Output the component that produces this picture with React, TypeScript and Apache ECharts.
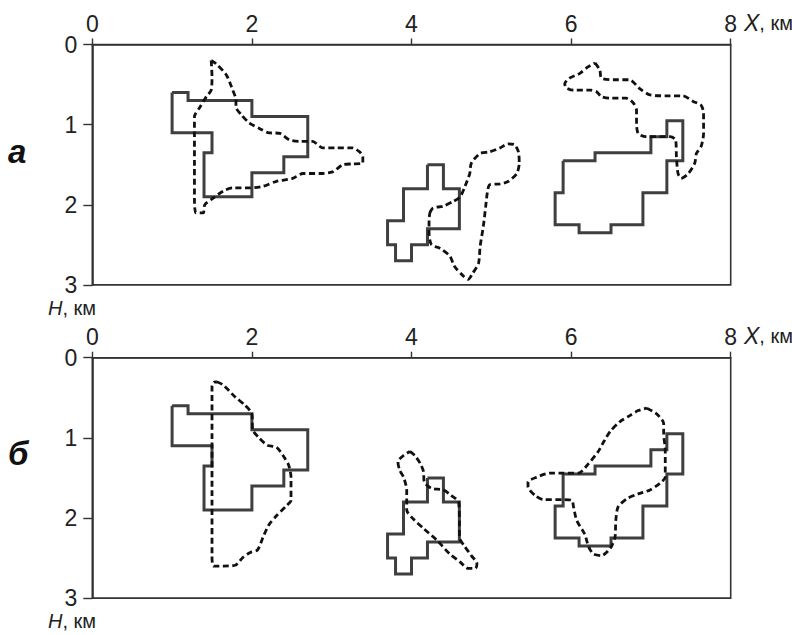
import React, { useEffect, useRef } from "react";
import * as echarts from "echarts";

// ---- axis settings ----
const xTickValues = [0, 2, 4, 6, 8];
const yTickValues = [0, 1, 2, 3];

// ---- model bodies (solid), identical in both panels ----
const bodyLeft = [
  [1.0, 0.6], [1.2, 0.6], [1.2, 0.7], [2.0, 0.7], [2.0, 0.9], [2.7, 0.9], [2.7, 1.4],
  [2.4, 1.4], [2.4, 1.6], [2.0, 1.6], [2.0, 1.9], [1.4, 1.9], [1.4, 1.35], [1.5, 1.35],
  [1.5, 1.1], [1.0, 1.1], [1.0, 0.6],
];
const bodyMiddle = [
  [4.2, 1.5], [4.4, 1.5], [4.4, 1.8], [4.6, 1.8], [4.6, 2.3], [4.2, 2.3], [4.2, 2.5],
  [4.0, 2.5], [4.0, 2.7], [3.8, 2.7], [3.8, 2.5], [3.7, 2.5], [3.7, 2.2], [3.9, 2.2],
  [3.9, 1.8], [4.2, 1.8], [4.2, 1.5],
];
const bodyRight = [
  [5.9, 1.45], [6.3, 1.45], [6.3, 1.35], [7.0, 1.35], [7.0, 1.15], [7.2, 1.15], [7.2, 0.95],
  [7.4, 0.95], [7.4, 1.45], [7.2, 1.45], [7.2, 1.85], [6.9, 1.85], [6.9, 2.25], [6.5, 2.25],
  [6.5, 2.35], [6.1, 2.35], [6.1, 2.25], [5.8, 2.25], [5.8, 1.85], [5.9, 1.85], [5.9, 1.45],
];

// ---- panel "а" recovered contours (dashed) ----
const contourALeft = [
  [1.49, 0.2], [1.55, 0.24], [1.68, 0.38], [1.76, 0.57], [1.8, 0.69], [1.8, 0.78], [1.87, 0.88],
  [1.97, 0.98], [2.1, 1.05], [2.2, 1.1], [2.35, 1.11], [2.47, 1.19], [2.6, 1.21], [2.76, 1.21],
  [2.89, 1.29], [3.05, 1.29], [3.26, 1.29], [3.35, 1.34], [3.39, 1.4], [3.39, 1.48], [3.26, 1.49],
  [3.14, 1.5], [3.01, 1.59], [2.85, 1.61], [2.64, 1.61], [2.51, 1.67], [2.3, 1.71], [2.14, 1.77],
  [1.97, 1.79], [1.76, 1.79], [1.64, 1.83], [1.51, 1.92], [1.41, 2.0], [1.39, 2.1], [1.3, 2.1],
  [1.28, 1.94], [1.28, 1.52], [1.28, 1.11], [1.28, 0.9], [1.35, 0.78], [1.43, 0.65], [1.49, 0.57],
  [1.5, 0.4], [1.49, 0.2],
];
const contourAMiddle = [
  [4.23, 2.1], [4.27, 2.04], [4.39, 2.02], [4.52, 1.96], [4.61, 1.9], [4.67, 1.77], [4.73, 1.61],
  [4.75, 1.48], [4.86, 1.36], [4.98, 1.34], [5.11, 1.29], [5.21, 1.24], [5.29, 1.25], [5.34, 1.34],
  [5.35, 1.48], [5.32, 1.61], [5.21, 1.71], [5.11, 1.74], [4.98, 1.75], [4.95, 1.85], [4.93, 2.02],
  [4.9, 2.27], [4.86, 2.52], [4.84, 2.73], [4.77, 2.85], [4.71, 2.93], [4.65, 2.89], [4.54, 2.77],
  [4.48, 2.64], [4.35, 2.54], [4.25, 2.5], [4.22, 2.35], [4.22, 2.19], [4.23, 2.1],
];
const contourARight = [
  [6.3, 0.23], [6.36, 0.32], [6.38, 0.42], [6.53, 0.44], [6.73, 0.44], [6.86, 0.55], [6.99, 0.63],
  [7.19, 0.64], [7.4, 0.64], [7.53, 0.71], [7.63, 0.76], [7.66, 0.86], [7.66, 1.11], [7.63, 1.27],
  [7.57, 1.36], [7.55, 1.48], [7.47, 1.61], [7.38, 1.67], [7.34, 1.61], [7.32, 1.4], [7.31, 1.19],
  [7.24, 1.15], [6.94, 1.15], [6.84, 1.11], [6.82, 0.98], [6.82, 0.82], [6.78, 0.73], [6.69, 0.67],
  [6.48, 0.67], [6.38, 0.65], [6.32, 0.59], [6.25, 0.57], [6.03, 0.57], [5.94, 0.54], [5.92, 0.49],
  [5.98, 0.42], [6.11, 0.36], [6.21, 0.28], [6.3, 0.23],
];

// ---- panel "б" recovered contours (dashed) ----
const contourBLeft = [
  [1.56, 0.3], [1.64, 0.34], [1.79, 0.49], [1.91, 0.59], [2.0, 0.7], [2.01, 0.9], [2.08, 0.99],
  [2.19, 1.09], [2.31, 1.12], [2.39, 1.22], [2.46, 1.34], [2.49, 1.49], [2.49, 1.78], [2.42, 1.86],
  [2.31, 1.97], [2.21, 2.09], [2.14, 2.24], [2.07, 2.4], [1.98, 2.43], [1.89, 2.49], [1.79, 2.59],
  [1.64, 2.6], [1.52, 2.6], [1.5, 2.49], [1.5, 1.82], [1.5, 0.99], [1.5, 0.36], [1.52, 0.31],
  [1.56, 0.3],
];
const contourBMiddle = [
  [3.98, 1.17], [4.04, 1.22], [4.11, 1.32], [4.15, 1.42], [4.16, 1.55], [4.25, 1.63], [4.4, 1.65],
  [4.5, 1.72], [4.59, 1.8], [4.6, 2.03], [4.6, 2.24], [4.67, 2.36], [4.75, 2.47], [4.82, 2.57],
  [4.8, 2.63], [4.71, 2.63], [4.61, 2.55], [4.48, 2.45], [4.32, 2.28], [4.15, 2.13], [4.02, 2.01],
  [3.94, 1.9], [3.94, 1.65], [3.9, 1.49], [3.85, 1.4], [3.83, 1.3], [3.9, 1.22], [3.98, 1.17],
];
const contourBRight = [
  [6.95, 0.63], [7.07, 0.7], [7.16, 0.82], [7.16, 0.95], [7.18, 1.15], [7.18, 1.36], [7.18, 1.49],
  [7.11, 1.57], [6.99, 1.65], [6.84, 1.7], [6.7, 1.76], [6.59, 1.86], [6.56, 2.03], [6.55, 2.24],
  [6.49, 2.38], [6.38, 2.47], [6.28, 2.45], [6.22, 2.36], [6.17, 2.2], [6.07, 2.03], [6.03, 1.86],
  [6.01, 1.78], [5.9, 1.77], [5.65, 1.77], [5.55, 1.72], [5.46, 1.61], [5.46, 1.55], [5.57, 1.49],
  [5.74, 1.44], [5.9, 1.44], [6.09, 1.44], [6.22, 1.32], [6.34, 1.17], [6.42, 1.03], [6.49, 0.92],
  [6.61, 0.8], [6.74, 0.72], [6.84, 0.66], [6.95, 0.63],
];

const panelLetters = ["а", "б"];

const FONT = "'Liberation Sans Narrow', 'Arial Narrow', 'Liberation Sans', Arial, sans-serif";

export default function App() {
  const ref = useRef<HTMLDivElement>(null);

  useEffect(() => {
    if (!ref.current) return;
    const chart = echarts.init(ref.current, undefined, { renderer: "svg" });

    const gridTops = [44.5, 357.7];
    const grids = gridTops.map((top) => ({
      left: 92.3,
      top,
      width: 638.4,
      height: 240.4,
      show: true,
      borderColor: "#333",
      borderWidth: 1.6,
      backgroundColor: "transparent",
      containLabel: false,
    }));

    const xAxes = [0, 1].map((i) => ({
      type: "value",
      gridIndex: i,
      position: "top",
      min: xTickValues[0],
      max: xTickValues[xTickValues.length - 1],
      interval: xTickValues[1] - xTickValues[0],
      axisLine: { show: true, lineStyle: { color: "#333", width: 1.6 } },
      axisTick: { show: true, length: 6, lineStyle: { color: "#333", width: 1.4 } },
      axisLabel: { fontSize: 23, color: "#222", fontFamily: FONT, margin: 9 },
      splitLine: { show: false },
    }));

    const yAxes = [0, 1].map((i) => ({
      type: "value",
      gridIndex: i,
      inverse: true,
      min: yTickValues[0],
      max: yTickValues[yTickValues.length - 1],
      interval: 1,
      axisLine: { show: true, lineStyle: { color: "#333", width: 1.6 } },
      axisTick: { show: true, length: 9, lineStyle: { color: "#333", width: 1.4 } },
      axisLabel: { fontSize: 23, color: "#222", fontFamily: FONT, margin: 15 },
      splitLine: { show: false },
    }));

    const solidSeries = (data: number[][], idx: number) => ({
      type: "line",
      xAxisIndex: idx,
      yAxisIndex: idx,
      data,
      showSymbol: false,
      symbol: "none",
      silent: true,
      lineStyle: { color: "#3f3f3f", width: 3, join: "miter" },
      z: 3,
    });
    const dashedSeries = (data: number[][], idx: number) => ({
      type: "line",
      xAxisIndex: idx,
      yAxisIndex: idx,
      data,
      showSymbol: false,
      symbol: "none",
      silent: true,
      smooth: 0.25,
      lineStyle: { color: "#111", width: 2.8, type: [6, 3.5] },
      z: 4,
    });

    const series: any[] = [];
    [0, 1].forEach((i) => {
      series.push(solidSeries(bodyLeft, i), solidSeries(bodyMiddle, i), solidSeries(bodyRight, i));
    });
    series.push(dashedSeries(contourALeft, 0), dashedSeries(contourAMiddle, 0), dashedSeries(contourARight, 0));
    series.push(dashedSeries(contourBLeft, 1), dashedSeries(contourBMiddle, 1), dashedSeries(contourBRight, 1));

    const graphic: any[] = [];
    const offsets = [0, 313.2];
    offsets.forEach((dy) => {
      graphic.push({
        type: "text",
        left: 744,
        top: 11 + dy,
        style: {
          text: "{i|X}{n|, км}",
          rich: {
            i: { fontStyle: "italic", fontSize: 23, fontFamily: FONT, fill: "#222" },
            n: { fontSize: 20, fontFamily: FONT, fill: "#222" },
          },
        },
      });
      graphic.push({
        type: "text",
        left: 48,
        top: 298 + dy,
        style: {
          text: "{i|H}{n|, км}",
          rich: {
            i: { fontStyle: "italic", fontSize: 20, fontFamily: FONT, fill: "#222" },
            n: { fontSize: 20, fontFamily: FONT, fill: "#222" },
          },
        },
      });
    });
    graphic.push({
      type: "text",
      left: 8,
      top: 135,
      style: {
        text: panelLetters[0],
        fontSize: 33,
        fontWeight: "bold",
        fontStyle: "italic",
        fontFamily: "'Liberation Sans', Arial, sans-serif",
        fill: "#111",
      },
    });
    graphic.push({
      type: "text",
      left: 8,
      top: 437,
      style: {
        text: panelLetters[1],
        fontSize: 33,
        fontWeight: "bold",
        fontStyle: "italic",
        fontFamily: "'Liberation Sans', Arial, sans-serif",
        fill: "#111",
      },
    });

    chart.setOption({
      animation: false,
      backgroundColor: "#fff",
      grid: grids,
      xAxis: xAxes,
      yAxis: yAxes,
      series,
      graphic,
    });

    return () => chart.dispose();
  }, []);

  return <div ref={ref} style={{ width: 792, height: 635, position: "absolute", left: 0, top: 0 }} />;
}
